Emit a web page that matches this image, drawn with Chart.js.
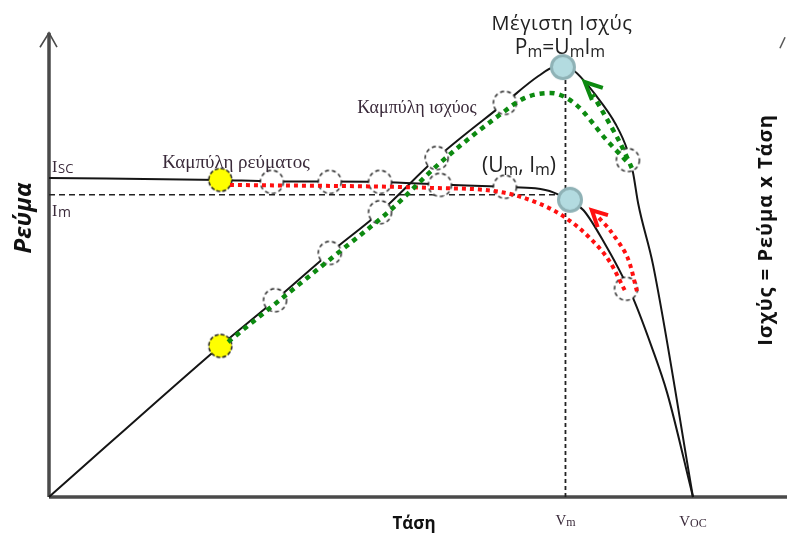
<!DOCTYPE html>
<html>
<head>
<meta charset="utf-8">
<script src="https://cdn.jsdelivr.net/npm/chart.js@4"></script>
<style>
  html, body { margin: 0; padding: 0; background: #ffffff; }
</style>
</head>
<body>
<canvas id="pv-chart" width="787" height="536"></canvas>
<script>
// Τάση σε σχετικές μονάδες (Voc = 100), ρεύμα / ισχύς σε σχετικές μονάδες (0-100)
const V_M = 80.2;
const I_M = 60.8;

// Καμπύλη ρεύματος (I-V)
const currentCurve = [[0, 64.2], [26.6, 63.8], [34.6, 63.5], [43.6, 63.5], [51.4, 63.4], [60.7, 62.9],
  [70.8, 62.4], [75.5, 62.1], [78.3, 61.3], [80.9, 59.6], [83.0, 57.7], [86.6, 50.3], [89.1, 44.3],
  [90.7, 40.0], [93.5, 30.5], [96.0, 20.9], [100, 0]];

// Καμπύλη ισχύος (P-V)
const powerCurve = [[0, 0], [26.6, 30.4], [35.1, 39.6], [43.6, 49.1], [51.4, 57.3], [60.2, 68.2],
  [70.8, 79.3], [76.0, 84.7], [78.5, 86.5], [80.0, 86.6], [81.4, 85.9], [85.1, 80.5], [88.0, 75.0],
  [89.8, 69.8], [90.7, 65.2], [91.5, 59.0], [93.8, 46.7], [100, 0]];

// σημεία εκκίνησης (κίτρινα)
const startPoints = [[26.6, 63.8], [26.6, 30.4]];
// ενδιάμεσα σημεία (διακεκομμένοι κύκλοι)
const stepPoints = [[34.6, 63.4], [43.6, 63.4], [51.4, 63.4], [60.7, 62.8], [70.8, 62.4], [89.6, 41.9],
  [35.1, 39.6], [43.6, 49.1], [51.4, 57.3], [60.2, 68.2], [70.8, 79.3], [89.9, 67.8]];
// μέγιστο σημείο ισχύος
const mppPoints = [[79.8, 86.5], [80.9, 59.8]];

// διαδρομές ανίχνευσης (κόκκινη / πράσινη)
const greenPath = [[27.8, 31.2], [44.1, 48.3], [53.0, 57.7], [60.7, 67.2], [70.0, 76.9], [73.9, 80.3],
  [77.8, 81.3], [81.7, 79.1], [86.6, 71.8], [89.8, 67.4]];
const greenReturn = [[90.5, 66.2], [88.7, 71.2], [86.0, 77.5], [84.4, 81.0]];
const greenHead = [[84.3, 79.9], [83.2, 83.5], [86.0, 82.3]];
const redPath = [[28.1, 62.8], [59.2, 62.2], [70.0, 61.4], [76.2, 59.0], [80.1, 56.3], [84.0, 52.1],
  [87.1, 47.3], [89.4, 41.6]];
const redReturn = [[91.3, 41.4], [89.8, 48.3], [87.1, 53.7], [85.3, 56.3]];
const redHead = [[85.2, 54.3], [84.3, 57.7], [86.8, 56.7]];

// βοηθητικές γραμμές Im / Vm
const imGuide = [[0, I_M], [V_M, I_M]];
const vmGuide = [[V_M, 0], [V_M, 86.5]];

// άξονες
const yAxisLine = [[0, 0], [0, 93.4]];
const yAxisHead = [[-1.4, 90.5], [0, 93.4], [1.24, 90.5]];
const xAxisLine = [[0, 0], [114.6, 0]];
const rightAxisStub = [[113.5, 90.3], [114.3, 92.5]];

const pts = arr => arr.map(p => ({ x: p[0], y: p[1] }));

// κύκλος ως εικόνα για pointStyle
function circleImage(r, fill, stroke, lineWidth, dash) {
  const c = document.createElement('canvas');
  const s = Math.ceil(2 * r + lineWidth + 2);
  c.width = s; c.height = s;
  const g = c.getContext('2d');
  g.beginPath();
  g.arc(s / 2, s / 2, r, 0, Math.PI * 2);
  g.fillStyle = fill;
  g.fill();
  g.lineWidth = lineWidth;
  g.strokeStyle = stroke;
  g.setLineDash(dash);
  g.stroke();
  return c;
}

const yellowDot = circleImage(11.5, '#ffff00', '#222', 1.5, [4, 2]);
const openDot = circleImage(11.5, '#ffffff', '#222', 1.4, [4, 3]);
const tealDot = circleImage(11.5, '#b3dbe0', '#8fb2b6', 3, []);

function line(data, color, width, dash, order, extra) {
  return Object.assign({
    data: pts(data),
    showLine: true,
    borderColor: color,
    borderWidth: width,
    borderDash: dash,
    pointRadius: 0,
    clip: false,
    order: order,
  }, extra || {});
}

function markers(data, img, order) {
  return {
    data: pts(data),
    showLine: false,
    pointStyle: img,
    pointRadius: 11,
    clip: false,
    order: order,
  };
}

// κείμενο με δείκτες (m)
function drawParts(ctx, parts, cx, base) {
  let w = 0;
  parts.forEach(p => { ctx.font = p.f; w += ctx.measureText(p.t).width; });
  let xx = cx - w / 2;
  ctx.textAlign = 'left';
  parts.forEach(p => {
    ctx.font = p.f;
    ctx.fillText(p.t, xx, base + (p.dy || 0));
    xx += ctx.measureText(p.t).width;
  });
}

const textPlugin = {
  id: 'pvLabels',
  afterDatasetsDraw(chart) {
    const ctx = chart.ctx;
    const x = chart.scales.x;
    const serif = '"Liberation Serif", serif';
    const sans = '"Open Sans", sans-serif';
    ctx.save();
    ctx.textBaseline = 'alphabetic';

    // ετικέτες αξόνων
    ctx.fillStyle = '#111';
    ctx.font = 'bold 17px ' + sans;
    ctx.textAlign = 'center';
    ctx.fillText('Τάση', 414, 529);

    ctx.fillStyle = '#3a2a3a';
    drawParts(ctx, [{ t: 'V', f: '15px ' + serif }, { t: 'm', f: '12px ' + serif, dy: 1 }], x.getPixelForValue(V_M), 525);
    drawParts(ctx, [{ t: 'V', f: '15px ' + serif }, { t: 'OC', f: '12px ' + serif, dy: 1 }], x.getPixelForValue(100), 526);

    ctx.textAlign = 'left';
    ctx.font = '16px ' + serif;
    ctx.fillText('I', 52, 172);
    ctx.font = '13px ' + sans;
    ctx.fillText('SC', 58, 173);
    ctx.font = '16px ' + serif;
    ctx.fillText('I', 52, 216);
    ctx.font = '14px ' + sans;
    ctx.fillText('m', 58, 217);

    ctx.font = '19px ' + serif;
    ctx.textAlign = 'center';
    ctx.fillText('Καμπύλη ρεύματος', 236, 168);
    ctx.font = '18px ' + serif;
    ctx.fillText('Καμπύλη ισχύος', 417, 113);

    ctx.fillStyle = '#222';
    ctx.letterSpacing = '0.5px';
    ctx.font = '20px ' + sans;
    ctx.fillText('Μέγιστη Ισχύς', 562, 30);
    ctx.letterSpacing = '0px';
    drawParts(ctx, [
      { t: 'P', f: '21px ' + sans }, { t: 'm', f: '16px ' + sans, dy: 3 },
      { t: '=U', f: '21px ' + sans }, { t: 'm', f: '16px ' + sans, dy: 3 },
      { t: 'I', f: '21px ' + sans }, { t: 'm', f: '16px ' + sans, dy: 3 }], 560, 54);
    drawParts(ctx, [
      { t: '(U', f: '21px ' + sans }, { t: 'm', f: '16px ' + sans, dy: 3 },
      { t: ', I', f: '21px ' + sans }, { t: 'm', f: '16px ' + sans, dy: 3 },
      { t: ')', f: '21px ' + sans }], 519, 172);

    // κάθετες ετικέτες
    ctx.fillStyle = '#111';
    ctx.save();
    ctx.translate(31, 218);
    ctx.rotate(-Math.PI / 2);
    ctx.font = 'italic bold 24px ' + sans;
    ctx.textAlign = 'center';
    ctx.fillText('Ρεύμα', 0, 0);
    ctx.restore();

    ctx.save();
    ctx.translate(772, 230);
    ctx.rotate(-Math.PI / 2);
    ctx.letterSpacing = '1px';
    ctx.font = 'bold 20px ' + sans;
    ctx.textAlign = 'center';
    ctx.fillText('Ισχύς = Ρεύμα x Τάση', 0, 0);
    ctx.restore();

    ctx.restore();
  }
};

new Chart(document.getElementById('pv-chart').getContext('2d'), {
  type: 'scatter',
  data: {
    datasets: [
      line(greenPath, '#0c8a10', 4.5, [5, 5], 1, { cubicInterpolationMode: 'monotone' }),
      line(greenReturn, '#0c8a10', 4.5, [5, 5], 1, { tension: 0.3 }),
      line(greenHead, '#0c8a10', 4, [], 1, { borderJoinStyle: 'miter' }),
      line(redPath, '#ff1010', 4, [4, 4], 1, { cubicInterpolationMode: 'monotone' }),
      line(redReturn, '#ff1010', 4, [4, 4], 1, { tension: 0.3 }),
      line(redHead, '#ff1010', 4, [], 1, { borderJoinStyle: 'miter' }),
      markers(mppPoints, tealDot, 2),
      markers(startPoints, yellowDot, 2),
      markers(stepPoints, openDot, 2),
      line(currentCurve, '#151515', 2, [], 3, { cubicInterpolationMode: 'monotone' }),
      line(powerCurve, '#151515', 2, [], 3, { cubicInterpolationMode: 'monotone' }),
      line(imGuide, '#222', 1.6, [6, 4], 4),
      line(vmGuide, '#222', 1.8, [4, 3], 4),
      line(yAxisLine, '#4a4a4a', 3.5, [], 5),
      line(yAxisHead, '#4a4a4a', 1.6, [], 5),
      line(xAxisLine, '#4a4a4a', 3.5, [], 5),
      line(rightAxisStub, '#555', 1.5, [], 5),
    ]
  },
  options: {
    responsive: false,
    animation: false,
    events: [],
    layout: { autoPadding: false, padding: { left: 49, right: 0, top: 0, bottom: 39 } },
    plugins: {
      legend: { display: false },
      tooltip: { enabled: false },
    },
    scales: {
      x: { type: 'linear', min: 0, max: 114.6, display: false },
      y: { type: 'linear', min: 0, max: 100, display: false },
    },
  },
  plugins: [textPlugin],
});
</script>
</body>
</html>
